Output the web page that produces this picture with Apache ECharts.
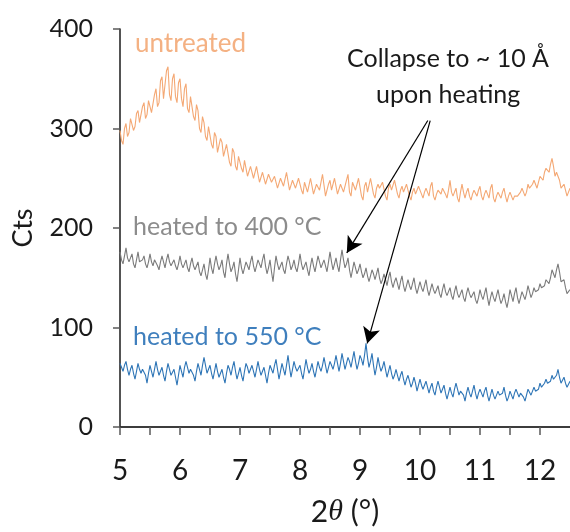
<!DOCTYPE html>
<html><head><meta charset="utf-8">
<script src="https://cdn.jsdelivr.net/npm/echarts@6/dist/echarts.min.js"></script>
<style>html,body{margin:0;padding:0;background:#fff}#c{width:570px;height:532px}</style>
</head><body><div id="c"></div>
<script>
const xStart = 5.0;
const xStep = 0.025;
const xTickLabels = ['5','6','7','8','9','10','11','12'];
const yTickLabels = ['0','100','200','300','400'];
const seriesNames = ['untreated','heated to 400 °C','heated to 550 °C'];
const untreated = [
298,288,284,300,305,292,296,310,312,298,302,315,318,306,308,322,326,310,314,328,
330,316,318,334,340,322,326,348,352,330,330,358,362,334,328,350,355,332,326,346,
350,330,322,340,345,320,316,332,330,312,308,324,318,300,296,312,306,292,288,302,
300,284,280,296,292,276,274,290,286,272,270,284,282,266,262,280,276,262,258,272,
272,260,256,268,266,252,250,262,264,250,248,262,260,246,246,256,258,244,242,254,
256,246,244,252,254,240,238,250,252,242,240,256,255,238,236,248,250,240,238,250,
252,238,234,246,248,236,236,250,250,234,232,244,246,238,238,254,252,232,230,244,
248,238,236,250,250,234,232,244,246,236,234,248,254,236,232,246,248,238,236,250,
250,232,228,242,246,236,234,250,252,234,230,240,244,240,238,246,248,232,228,240,
244,238,236,248,250,234,230,238,242,236,234,244,246,232,228,236,240,234,232,242,
244,234,230,236,240,236,232,242,246,232,228,234,238,236,234,240,242,234,230,238,
248,236,232,236,240,230,226,236,244,236,230,236,240,232,228,234,238,236,232,238,
242,232,228,234,238,234,230,240,244,230,226,232,236,234,230,236,240,232,226,232,
236,232,228,232,234,232,230,236,240,236,232,236,244,240,238,244,248,244,240,246,
252,250,248,256,260,258,256,264,270,262,252,256,258,248,240,242,244,238,232,236,
240];
const heated400 = [
176,168,164,172,180,170,166,170,174,164,160,168,176,166,164,168,172,164,160,166,
174,166,162,168,170,162,158,166,172,166,160,168,174,166,162,164,168,162,158,164,
172,164,160,164,168,160,156,164,170,162,158,162,166,156,152,158,164,154,148,158,
170,160,154,164,172,164,158,162,168,156,150,164,174,164,156,160,166,154,146,158,
170,160,154,160,166,162,158,166,172,162,156,162,168,164,160,168,174,162,154,160,
168,156,146,160,172,164,158,162,166,158,154,164,172,166,158,162,168,160,156,164,
174,164,158,160,166,158,152,162,170,162,156,164,172,166,160,162,168,162,156,166,
176,166,158,164,170,162,156,168,178,168,160,164,170,158,150,158,166,160,154,158,
164,156,150,154,160,152,146,152,158,154,148,154,160,150,144,148,154,148,142,150,
156,146,140,146,150,144,138,146,152,142,136,142,148,142,138,144,150,140,134,140,
146,140,136,142,148,138,132,138,144,138,134,138,142,134,130,138,144,136,132,136,
140,132,128,136,142,134,130,134,138,130,126,134,140,134,130,132,136,128,124,130,
138,132,128,134,140,130,122,130,136,130,126,132,138,130,124,128,134,126,120,128,
138,132,126,134,140,130,124,130,136,132,128,134,142,136,130,134,140,136,134,138,
144,140,138,142,148,146,144,150,158,154,150,158,164,156,146,148,148,140,134,136,
138];
const heated550 = [
64,60,56,62,66,58,52,58,62,54,48,56,64,58,54,58,60,52,44,54,
62,56,50,58,66,58,52,56,60,52,46,56,64,58,52,54,58,50,42,52,
62,56,50,60,66,60,54,58,60,52,46,56,64,58,52,62,70,62,54,58,
62,54,48,56,64,56,50,54,58,50,44,54,62,58,52,60,66,56,48,54,
60,52,46,56,64,60,54,58,62,56,50,58,66,58,52,56,60,52,44,54,
62,58,54,62,68,58,48,56,64,58,52,62,72,60,50,58,66,60,56,58,
62,54,48,58,68,60,54,58,64,56,50,58,66,60,56,62,70,62,54,60,
66,62,58,64,72,64,56,64,74,66,58,64,70,66,60,68,76,66,58,64,
72,68,62,72,84,70,60,66,74,62,52,60,70,62,56,60,66,58,50,56,
62,54,48,52,58,52,46,52,56,48,42,48,52,46,40,44,50,44,36,42,
48,42,38,42,46,40,34,40,44,36,32,40,46,40,34,38,42,34,28,34,
40,34,30,38,44,38,32,36,38,32,26,34,40,34,30,36,42,34,28,34,
38,34,30,36,40,32,26,32,38,32,28,32,36,32,30,34,40,32,26,30,
36,32,28,34,38,34,30,34,36,30,26,32,38,36,32,36,40,36,34,38,
44,40,38,44,48,44,42,46,52,48,46,52,58,50,44,46,50,44,40,42,
46];

function pts(arr){ return arr.map((v,i)=>[+(xStart + i*xStep).toFixed(3), v]); }

const FONT = 'Lato';
const chart = echarts.init(document.getElementById('c'), null, {renderer:'canvas'});
chart.setOption({
  animation:false,
  backgroundColor:'#fff',
  grid:{left:120, right:0, top:29, bottom:99},
  xAxis:[{
    type:'value', min:5, max:12.5, interval:0.5,
    axisLine:{show:true, onZero:false, lineStyle:{color:'#595959', width:1.5}},
    axisTick:{show:true, inside:false, length:8, lineStyle:{color:'#595959', width:1.5}},
    splitLine:{show:false},
    axisLabel:{margin:30, fontSize:28, fontFamily:FONT, color:'#1a1a1a',
      showMaxLabel:false,
      formatter:function(v){ const s=String(v); return xTickLabels.indexOf(s)>=0 ? s : ''; }},
    name:'2{t|θ} (°)', nameLocation:'middle', nameGap:70,
    nameTextStyle:{fontSize:30, fontFamily:FONT, color:'#1a1a1a',
      rich:{t:{fontSize:30, fontStyle:'italic', fontFamily:'Liberation Serif', color:'#1a1a1a'}}}
  },{
    type:'value', min:5, max:12.5, position:'top',
    axisLine:{show:true, lineStyle:{color:'#262626', width:1.5}},
    axisTick:{show:false}, axisLabel:{show:false}, splitLine:{show:false}
  }],
  yAxis:{
    type:'value', min:0, max:400, interval:100,
    axisLine:{show:true, lineStyle:{color:'#1a1a1a', width:1.5}},
    axisTick:{show:true, inside:false, length:7, lineStyle:{color:'#595959', width:1.5}},
    splitLine:{show:false},
    axisLabel:{margin:27, fontSize:25, fontFamily:FONT, color:'#1a1a1a',
      formatter:function(v){ const s=String(v); return yTickLabels.indexOf(s)>=0 ? s : ''; }},
    name:'Cts', nameLocation:'middle', nameGap:83, nameRotate:90,
    nameTextStyle:{fontSize:27, fontFamily:FONT, color:'#1a1a1a'}
  },
  series:[
    {name:seriesNames[0], type:'line', data:pts(untreated), showSymbol:false, symbol:'none',
     lineStyle:{color:'#F4A874', width:1.1}, itemStyle:{color:'#F4A874'}},
    {name:seriesNames[1], type:'line', data:pts(heated400), showSymbol:false, symbol:'none',
     lineStyle:{color:'#7B7B7B', width:1.1}, itemStyle:{color:'#7B7B7B'}},
    {name:seriesNames[2], type:'line', data:pts(heated550), showSymbol:false, symbol:'none',
     lineStyle:{color:'#2E75B6', width:1.1}, itemStyle:{color:'#2E75B6'},
     markLine:{silent:true, symbol:['none','arrow'], symbolSize:[13,16],
       label:{show:false}, lineStyle:{color:'#000', type:'solid', width:1.2},
       data:[
         [{coord:[10.13,308]},{coord:[8.78,175]}],
         [{coord:[10.17,308]},{coord:[9.12,84]}]
       ]}}
  ],
  graphic:[
    {type:'text', left:135, top:31, style:{text:seriesNames[0], font:'26px '+FONT, fill:'#F4B183'}},
    {type:'text', left:133, top:214, style:{text:seriesNames[1], font:'25px '+FONT, fill:'#8C8C8C'}},
    {type:'text', left:133, top:324, style:{text:seriesNames[2], font:'25px '+FONT, fill:'#3F7FBD'}},
    {type:'text', left:347, top:46, style:{text:'Collapse to ~ 10 Å', font:'25px '+FONT, fill:'#1a1a1a'}},
    {type:'text', left:376, top:82, style:{text:'upon heating', font:'25px '+FONT, fill:'#1a1a1a'}}
  ]
});
</script></body></html>
